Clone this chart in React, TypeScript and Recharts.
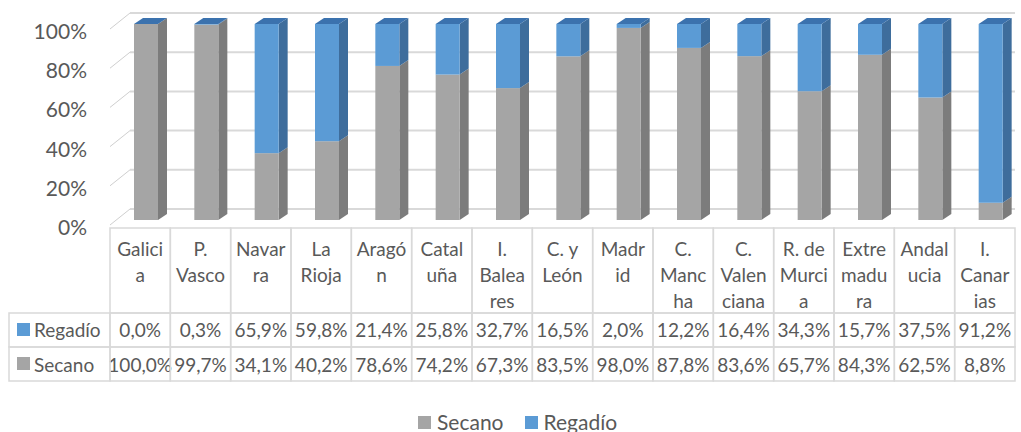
import { BarChart, Bar, XAxis, YAxis, CartesianGrid } from 'recharts';

const categories = [
  'Galicia', 'P. Vasco', 'Navarra', 'La Rioja', 'Aragón', 'Cataluña', 'I. Baleares', 'C. y León',
  'Madrid', 'C. Mancha', 'C. Valenciana', 'R. de Murcia', 'Extremadura', 'Andalucia', 'I. Canarias',
];
// header text as Excel wrapped it inside the data table
const headerLines = [
  ['Galici', 'a'], ['P.', 'Vasco'], ['Navar', 'ra'], ['La', 'Rioja'], ['Aragó', 'n'], ['Catal', 'uña'],
  ['I.', 'Balea', 'res'], ['C. y', 'León'], ['Madr', 'id'], ['C.', 'Manc', 'ha'], ['C.', 'Valen', 'ciana'],
  ['R. de', 'Murci', 'a'], ['Extre', 'madu', 'ra'], ['Andal', 'ucia'], ['I.', 'Canar', 'ias'],
];
const regadio = [0.0, 0.3, 65.9, 59.8, 21.4, 25.8, 32.7, 16.5, 2.0, 12.2, 16.4, 34.3, 15.7, 37.5, 91.2];
const secano = [100.0, 99.7, 34.1, 40.2, 78.6, 74.2, 67.3, 83.5, 98.0, 87.8, 83.6, 65.7, 84.3, 62.5, 8.8];
const yTicks = [0, 20, 40, 60, 80, 100];

const FONT = 'Lato, "Open Sans", sans-serif';
const TEXT = '#595959';
const LINE = '#d9d9d9';
const GRAY = '#a5a5a5';
const BLUE = '#5b9bd5';

const data = categories.map((name, i) => ({ name, Secano: secano[i], Regadío: regadio[i] }));

const fmt = (v: number) => v.toFixed(1).replace('.', ',') + '%';

// fake 3D column: front face shifted right a bit, side face and top face behind it
const OFF = 6;
const DX = 9;
const DY = 6;

const make3D = (front: string, side: string, top: string | null) => (p: any) => {
  const { x, y, width, height } = p;
  const fx = x + OFF;
  const r = fx + width;
  return (
    <g>
      <polygon points={`${r},${y} ${r + DX},${y - DY} ${r + DX},${y + height - DY} ${r},${y + height}`} fill={side} />
      {top && <polygon points={`${fx},${y} ${fx + DX},${y - DY} ${r + DX},${y - DY} ${r},${y}`} fill={top} />}
      <rect x={fx} y={y} width={width} height={Math.max(height, 0)} fill={front} />
    </g>
  );
};

const YTick = (p: any) => {
  const { x, y, payload } = p;
  return (
    <g>
      <line x1={x} y1={y + 5} x2={x + 20} y2={y - 11} stroke="#cfcfcf" strokeWidth={1} />
      <text x={x - 23} y={y + 15} textAnchor="end" fontSize={21} fontFamily={FONT} fill={TEXT}>
        {payload.value}%
      </text>
    </g>
  );
};

const TableColumn = (p: any) => {
  const { x, y, payload, index } = p;
  const colW = (p.width ?? 905) / (p.visibleTicksCount ?? categories.length);
  const left = x - colW / 2;
  const rows = [
    { top: y + 8, h: 85 },
    { top: y + 93, h: 34 },
    { top: y + 127, h: 34 },
  ];
  return (
    <g fontFamily={FONT} fontSize={19} fill={TEXT}>
      {rows.map((r, k) => (
        <rect key={k} x={left} y={r.top} width={colW} height={r.h} fill="none" stroke={LINE} strokeWidth={1.5} />
      ))}
      {headerLines[index].map((t, k) => (
        <text key={k} x={x} y={y + 36 + k * 26} textAnchor="middle">{t}</text>
      ))}
      <text x={x} y={y + 117} textAnchor="middle">{fmt(regadio[index])}</text>
      <text x={x} y={y + 152} textAnchor="middle">{fmt(secano[index])}</text>
      {index === 0 && (
        <g>
          <rect x={9} y={y + 93} width={left - 9} height={34} fill="none" stroke={LINE} strokeWidth={1.5} />
          <rect x={9} y={y + 127} width={left - 9} height={34} fill="none" stroke={LINE} strokeWidth={1.5} />
          <rect x={17} y={y + 103} width={13} height={13} fill={BLUE} />
          <text x={34} y={y + 117}>Regadío</text>
          <rect x={17} y={y + 137} width={13} height={13} fill={GRAY} />
          <text x={34} y={y + 152}>Secano</text>
        </g>
      )}
      <title>{payload.value}</title>
    </g>
  );
};

const legendItems = [
  { name: 'Secano', color: GRAY },
  { name: 'Regadío', color: BLUE },
];

export default function App() {
  return (
    <div style={{ position: 'absolute', left: 0, top: 0, width: 1021, height: 432, background: '#fff' }}>
      <BarChart width={1021} height={432} data={data} margin={{ top: 24, right: 6, left: 0, bottom: 51 }} barSize={24}>
        <CartesianGrid
          vertical={false}
          horizontal={(g: any) => (
            <line key={g.key ?? g.index} x1={g.x1 + 20} y1={g.y1 - 11} x2={g.x2} y2={g.y2 - 11} stroke={LINE} strokeWidth={2} />
          )}
        />
        <YAxis
          width={110}
          domain={[0, 100]}
          ticks={yTicks}
          axisLine={false}
          tickLine={false}
          tickSize={0}
          tickMargin={0}
          tick={<YTick />}
        />
        <XAxis
          dataKey="name"
          height={161}
          interval={0}
          axisLine={false}
          tickLine={false}
          tickSize={0}
          tickMargin={0}
          tick={<TableColumn />}
        />
        <Bar dataKey="Secano" stackId="a" fill={GRAY} isAnimationActive={false} shape={make3D(GRAY, '#7c7c7c', null)} />
        <Bar dataKey="Regadío" stackId="a" fill={BLUE} isAnimationActive={false} shape={make3D(BLUE, '#3e6d9c', '#3b72ae')} />
      </BarChart>
      <div
        style={{
          position: 'absolute', left: 418, top: 410, display: 'flex', alignItems: 'center',
          fontFamily: FONT, fontSize: 21, lineHeight: '24px', color: TEXT,
        }}
      >
        {legendItems.map((it, i) => (
          <div key={it.name} style={{ display: 'flex', alignItems: 'center', marginLeft: i ? 21 : 0 }}>
            <span style={{ width: 13, height: 13, background: it.color, marginRight: 6, display: 'inline-block' }} />
            <span>{it.name}</span>
          </div>
        ))}
      </div>
    </div>
  );
}
